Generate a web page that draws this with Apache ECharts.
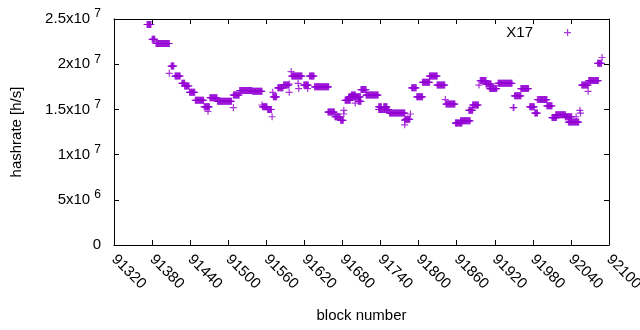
<!DOCTYPE html>
<html>
<head>
<meta charset="utf-8">
<script src="https://cdn.jsdelivr.net/npm/echarts@6/dist/echarts.min.js"></script>
<style>
html, body { margin: 0; padding: 0; background: #fff; }
#chart { width: 640px; height: 330px; }
</style>
</head>
<body>
<div id="chart"></div>
<script>
// runs of blocks with the same hashrate (MH/s)
var runFrom = [91372, 91380, 91386, 91407, 91410, 91416, 91427, 91431, 91439, 91448,
    91462, 91468, 91471, 91483, 91508, 91508, 91518, 91538, 91553, 91554,
    91562, 91569, 91570, 91571, 91578, 91587, 91596, 91596, 91599, 91600,
    91610, 91611, 91619, 91625, 91628, 91636, 91657, 91668, 91677, 91682,
    91682, 91684, 91690, 91694, 91700, 91705, 91709, 91717, 91737, 91737,
    91745, 91754, 91778, 91778, 91779, 91787, 91789, 91797, 91806, 91817,
    91829, 91842, 91843, 91859, 91858, 91866, 91879, 91885, 91895, 91897,
    91906, 91912, 91925, 91949, 91951, 91961, 91975, 91983, 91987, 91989,
    92002, 92010, 92016, 92031, 92036, 92048, 92054, 92055, 92057, 92067,
    92068, 92082, 92089];
var runTo = [91378, 91384, 91407, 91407, 91414, 91424, 91431, 91438, 91447, 91461,
    91470, 91468, 91482, 91505, 91508, 91517, 91537, 91553, 91553, 91561,
    91568, 91569, 91570, 91576, 91586, 91595, 91596, 91596, 91599, 91616,
    91610, 91611, 91626, 91625, 91635, 91658, 91667, 91676, 91681, 91682,
    91682, 91692, 91708, 91700, 91700, 91709, 91717, 91736, 91753, 91741,
    91750, 91778, 91778, 91778, 91786, 91787, 91796, 91806, 91817, 91829,
    91841, 91842, 91857, 91859, 91868, 91881, 91885, 91894, 91895, 91906,
    91914, 91923, 91947, 91950, 91961, 91973, 91982, 91987, 91987, 92002,
    92010, 92017, 92031, 92041, 92052, 92048, 92054, 92055, 92067, 92067,
    92083, 92088, 92089];
var runRate = [24.4, 22.75, 22.3, 19.0, 19.8, 18.7, 17.9, 17.6, 16.9, 16.0,
    15.3, 14.8, 16.3, 15.9, 15.2, 16.6, 17.1, 17.0, 15.5, 15.3,
    15.0, 14.2, 16.9, 16.4, 17.4, 17.7, 17.8, 16.9, 19.2, 18.7,
    17.9, 17.3, 17.7, 17.3, 18.7, 17.5, 14.7, 14.2, 13.8, 14.9,
    14.5, 16.0, 16.4, 16.6, 15.7, 15.9, 17.2, 16.6, 15.0, 15.3,
    15.3, 14.6, 13.8, 13.3, 13.9, 14.5, 17.4, 16.4, 18.0, 18.7,
    17.7, 16.1, 15.6, 13.5, 13.5, 13.75, 14.9, 15.5, 17.7, 18.2,
    17.8, 17.3, 17.9, 15.2, 16.5, 17.3, 15.3, 14.6, 16.1, 16.1,
    15.4, 14.1, 14.4, 14.2, 13.6, 14.2, 14.9, 14.6, 17.7, 17.0,
    18.2, 20.1, 20.75];

var yTickText = ['0', '5x10 {e|6}', '1x10 {e|7}', '1.5x10 {e|7}', '2x10 {e|7}', '2.5x10 {e|7}'];

var plusSymbol = 'path://M0,3H7V4.2H0Z M3,0H4.2V7H3Z';

var points = [];
for (var i = 0; i < runFrom.length; i++) {
    for (var b = runFrom[i]; b <= runTo[i]; b++) {
        points.push([b, runRate[i]]);
    }
}

var chart = echarts.init(document.getElementById('chart'));

var tickStyle = { show: true, inside: true, length: 5, lineStyle: { color: '#000' } };
var lineStyle = { show: true, onZero: false, lineStyle: { color: '#000', width: 1 } };
var font = 'Liberation Sans, Arial, sans-serif';

var option = {
    animation: false,
    backgroundColor: '#fff',
    textStyle: { fontFamily: font },
    grid: { left: 114, right: 31, top: 19, bottom: 85, outerBoundsMode: 'none', containLabel: false },
    legend: {
        data: ['X17'],
        right: 69,
        top: 25,
        padding: 0,
        align: 'right',
        icon: plusSymbol,
        itemWidth: 7,
        itemHeight: 7,
        textStyle: { fontSize: 15, color: '#000', padding: [0, 26, 0, 0] }
    },
    xAxis: [
        {
            type: 'value',
            min: 91320,
            max: 92100,
            interval: 60,
            name: 'block number',
            nameLocation: 'middle',
            nameGap: 63,
            nameTextStyle: { fontSize: 15, color: '#000' },
            axisLine: lineStyle,
            axisTick: tickStyle,
            splitLine: { show: false },
            axisLabel: {
                rotate: -45,
                margin: 12,
                fontSize: 15,
                color: '#000',
                formatter: function (v) { return String(v); }
            }
        },
        {
            type: 'value',
            position: 'top',
            min: 91320,
            max: 92100,
            interval: 60,
            axisLine: lineStyle,
            axisTick: tickStyle,
            splitLine: { show: false },
            axisLabel: { show: false }
        }
    ],
    yAxis: [
        {
            type: 'value',
            min: 0,
            max: 25,
            interval: 5,
            name: 'hashrate [h/s]',
            nameLocation: 'middle',
            nameGap: 90,
            nameTextStyle: { fontSize: 15, color: '#000' },
            axisLine: lineStyle,
            axisTick: tickStyle,
            splitLine: { show: false },
            axisLabel: {
                margin: 13,
                fontSize: 15,
                color: '#000',
                formatter: function (v) { return yTickText[Math.round(v / 5)]; },
                rich: {
                    e: { fontSize: 12, color: '#000', padding: [0, 0, 10, 0] }
                }
            }
        },
        {
            type: 'value',
            position: 'right',
            min: 0,
            max: 25,
            interval: 5,
            axisLine: lineStyle,
            axisTick: tickStyle,
            splitLine: { show: false },
            axisLabel: { show: false }
        }
    ],
    series: [
        {
            name: 'X17',
            type: 'scatter',
            symbol: plusSymbol,
            symbolSize: 7,
            itemStyle: { color: '#9400d3' },
            data: points
        }
    ]
};

chart.setOption(option);
</script>
</body>
</html>
